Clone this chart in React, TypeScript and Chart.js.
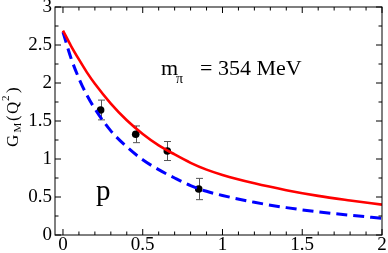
import React, { useEffect, useRef } from "react";
import { Chart, registerables } from "chart.js";
Chart.register(...registerables);

// Curves (Q^2 in GeV^2, G_M values)
const curveQ2 = [0, 0.05, 0.1, 0.15, 0.2, 0.3, 0.4, 0.5, 0.6, 0.7, 0.8, 0.9, 1.0, 1.2, 1.4, 1.6, 1.8, 2.0];
const redGM = [2.69, 2.49, 2.31, 2.14, 1.99, 1.73, 1.51, 1.33, 1.18, 1.06, 0.95, 0.86, 0.79, 0.68, 0.59, 0.515, 0.455, 0.40];
const blueGM = [2.67, 2.33, 2.06, 1.84, 1.66, 1.37, 1.16, 0.99, 0.86, 0.75, 0.65, 0.575, 0.52, 0.43, 0.36, 0.305, 0.26, 0.22];

// Lattice data points
const pointQ2 = [0.236, 0.456, 0.654, 0.851];
const pointGM = [1.645, 1.325, 1.105, 0.605];
const pointErr = [0.13, 0.11, 0.125, 0.14];

// Axis ticks
const xTicks = [0, 0.5, 1, 1.5, 2];
const xMinorTicks = [0.1, 0.2, 0.3, 0.4, 0.6, 0.7, 0.8, 0.9, 1.1, 1.2, 1.3, 1.4, 1.6, 1.7, 1.8, 1.9];
const yTicks = [0, 0.5, 1, 1.5, 2, 2.5, 3];
const yMinorTicks = [0.25, 0.75, 1.25, 1.75, 2.25, 2.75];

const SERIF = '"Liberation Serif", "Times New Roman", serif';

const framePlugin = {
  id: "framePlugin",
  beforeDatasetsDraw(chart: any) {
    const ctx = chart.ctx;
    const xs = chart.scales.x;
    const ys = chart.scales.y;
    ctx.save();
    ctx.strokeStyle = "#555";
    ctx.lineWidth = 1;
    for (let i = 0; i < pointQ2.length; i++) {
      const px = Math.round(xs.getPixelForValue(pointQ2[i])) + 0.5;
      const top = ys.getPixelForValue(pointGM[i] + pointErr[i]);
      const bot = ys.getPixelForValue(pointGM[i] - pointErr[i]);
      ctx.beginPath();
      ctx.moveTo(px, top);
      ctx.lineTo(px, bot);
      ctx.moveTo(px - 3.5, top);
      ctx.lineTo(px + 3.5, top);
      ctx.moveTo(px - 3.5, bot);
      ctx.lineTo(px + 3.5, bot);
      ctx.stroke();
    }
    ctx.restore();
  },
  afterDraw(chart: any) {
    const ctx = chart.ctx;
    const { left, right, top, bottom } = chart.chartArea;
    const xs = chart.scales.x;
    const ys = chart.scales.y;
    ctx.save();
    ctx.strokeStyle = "#000";
    ctx.lineWidth = 1;
    ctx.strokeRect(left, top, right - left, bottom - top);
    ctx.beginPath();
    const xt = (v: number, len: number) => {
      const p = xs.getPixelForValue(v);
      ctx.moveTo(p, bottom);
      ctx.lineTo(p, bottom - len);
      ctx.moveTo(p, top);
      ctx.lineTo(p, top + len);
    };
    const yt = (v: number, len: number) => {
      const p = ys.getPixelForValue(v);
      ctx.moveTo(left, p);
      ctx.lineTo(left + len, p);
      ctx.moveTo(right, p);
      ctx.lineTo(right - len, p);
    };
    xTicks.forEach((v) => xt(v, 6));
    xMinorTicks.forEach((v) => xt(v, 3.5));
    yTicks.forEach((v) => yt(v, 6));
    yMinorTicks.forEach((v) => yt(v, 3.5));
    ctx.stroke();

    // annotations
    ctx.fillStyle = "#000";
    ctx.textBaseline = "alphabetic";
    ctx.textAlign = "left";
    ctx.font = "22px " + SERIF;
    ctx.fillText("m", 161, 75);
    ctx.fillText("= 354 MeV", 200, 75);
    ctx.font = "14px " + SERIF;
    ctx.fillText("π", 176, 83);
    ctx.font = "29px " + SERIF;
    ctx.fillText("p", 96, 200);

    // y axis title (rotated)
    ctx.translate(18, 147);
    ctx.rotate(-Math.PI / 2);
    ctx.font = "17px " + SERIF;
    ctx.fillText("G", 0, 0);
    ctx.font = "11px " + SERIF;
    ctx.fillText("M", 14.5, 3);
    ctx.font = "17px " + SERIF;
    ctx.fillText("(", 26, 0);
    ctx.fillText("Q", 33, 0);
    ctx.font = "11px " + SERIF;
    ctx.fillText("2", 46, -9);
    ctx.font = "17px " + SERIF;
    ctx.fillText(")", 54, 0);
    ctx.restore();
  },
};

const fmt = (v: any) => String(Number(v));

export default function App() {
  const ref = useRef<HTMLCanvasElement | null>(null);
  useEffect(() => {
    if (!ref.current) return;
    const chart = new Chart(ref.current, {
      type: "scatter",
      data: {
        datasets: [
          {
            label: "red",
            data: curveQ2.map((x, i) => ({ x, y: redGM[i] })),
            showLine: true,
            borderColor: "#ff0000",
            borderWidth: 2.6,
            pointRadius: 0,
            cubicInterpolationMode: "monotone",
          },
          {
            label: "blue",
            data: curveQ2.map((x, i) => ({ x, y: blueGM[i] })),
            showLine: true,
            borderColor: "#0000ff",
            borderWidth: 3,
            borderDash: [11, 6],
            pointRadius: 0,
            cubicInterpolationMode: "monotone",
          },
          {
            label: "lattice",
            data: pointQ2.map((x, i) => ({ x, y: pointGM[i] })),
            showLine: false,
            backgroundColor: "#000",
            borderColor: "#000",
            pointRadius: 3.8,
            borderWidth: 0,
          },
        ],
      },
      options: {
        animation: false,
        responsive: false,
        devicePixelRatio: 1,
        layout: { padding: { left: 0, top: 7, right: 6, bottom: 0 } },
        plugins: { legend: { display: false }, tooltip: { enabled: false } },
        scales: {
          x: {
            type: "linear",
            min: -0.05,
            max: 2,
            grid: { display: false, drawTicks: false },
            border: { display: false },
            ticks: {
              font: { family: SERIF, size: 19, lineHeight: 1 },
              color: "#000",
              padding: 1,
              maxRotation: 0,
              autoSkip: false,
              callback: fmt,
            },
            afterBuildTicks: (s: any) => {
              s.ticks = xTicks.map((v) => ({ value: v }));
            },
            afterFit: (s: any) => {
              s.height = 18;
              s.paddingLeft = 0;
              s.paddingRight = 0;
              s.paddingTop = 0;
              s.paddingBottom = 0;
            },
          },
          y: {
            type: "linear",
            min: 0,
            max: 3,
            grid: { display: false, drawTicks: false },
            border: { display: false },
            ticks: {
              font: { family: SERIF, size: 19, lineHeight: 1 },
              color: "#000",
              padding: 3,
              autoSkip: false,
              callback: fmt,
            },
            afterBuildTicks: (s: any) => {
              s.ticks = yTicks.map((v) => ({ value: v }));
            },
            afterFit: (s: any) => {
              s.width = 55;
              s.paddingLeft = 0;
              s.paddingRight = 0;
              s.paddingTop = 0;
              s.paddingBottom = 0;
            },
          },
        },
      },
      plugins: [framePlugin],
    } as any);
    return () => chart.destroy();
  }, []);
  return (
    <div style={{ position: "absolute", left: 0, top: 0, width: 388, height: 253, background: "#fff" }}>
      <canvas ref={ref} width={388} height={253} style={{ display: "block" }} />
    </div>
  );
}
